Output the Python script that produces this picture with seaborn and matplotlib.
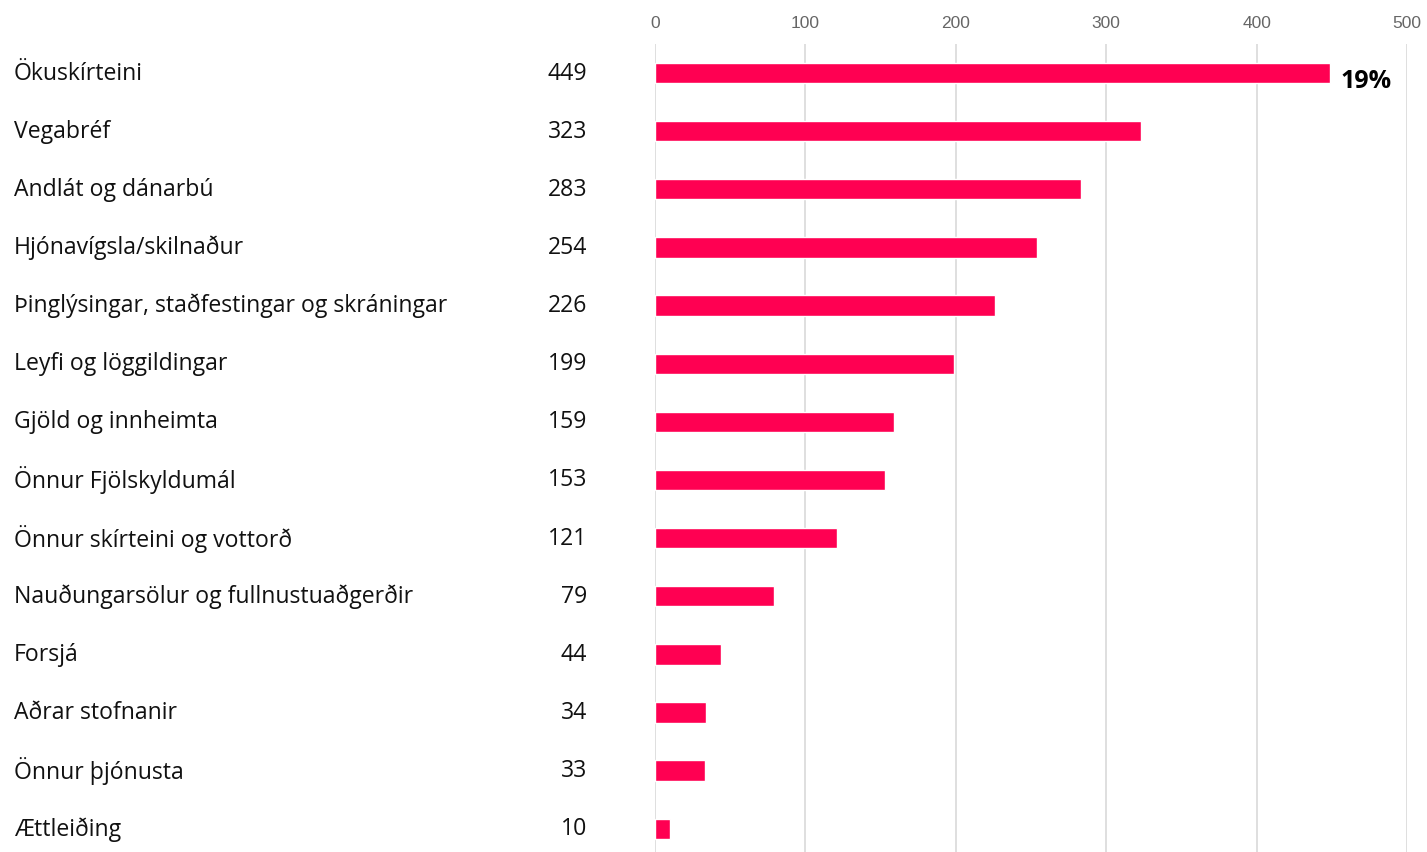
import matplotlib
matplotlib.use("Agg")
import matplotlib.pyplot as plt
import pandas as pd
import seaborn as sns

categories = [
    "Ökuskírteini",
    "Vegabréf",
    "Andlát og dánarbú",
    "Hjónavígsla/skilnaður",
    "Þinglýsingar, staðfestingar og skráningar",
    "Leyfi og löggildingar",
    "Gjöld og innheimta",
    "Önnur Fjölskyldumál",
    "Önnur skírteini og vottorð",
    "Nauðungarsölur og fullnustuaðgerðir",
    "Forsjá",
    "Aðrar stofnanir",
    "Önnur þjónusta",
    "Ættleiðing",
]
counts = [449, 323, 283, 254, 226, 199, 159, 153, 121, 79, 44, 34, 33, 10]
top_share = "19%"
x_ticks = [0, 100, 200, 300, 400, 500]

BAR_COLOR = "#ff0052"

df = pd.DataFrame({"category": categories, "count": counts})

sns.set_style("white")
plt.rcParams["font.family"] = ["Open Sans", "DejaVu Sans"]

fig = plt.figure(figsize=(14.27, 8.53), dpi=100)
ax = fig.add_axes([655 / 1427, 0, (1407 - 655) / 1427, (853 - 45) / 853])

sns.barplot(data=df, y="category", x="count", orient="h", color=BAR_COLOR,
            width=0.35, saturation=1, ax=ax, zorder=3)

ax.set_xlim(0, 500)
ax.set_ylim(13.4, -0.5)
ax.set_xticks(x_ticks)
ax.xaxis.tick_top()
ax.tick_params(axis="x", length=0, pad=10, labelsize=12.5, labelcolor="#666666")
for lbl in ax.get_xticklabels():
    lbl.set_family(["Liberation Sans", "DejaVu Sans"])
ax.grid(axis="x", color="#d9d9d9", linewidth=1.2, zorder=0)
ax.set_yticks([])
ax.set_xlabel("")
ax.set_ylabel("")
for s in ax.spines.values():
    s.set_visible(False)

# category names and counts as text columns to the left of the plot
for i, (cat, n) in enumerate(zip(categories, counts)):
    y = ax.transData.transform((0, i))[1]
    yf = (y + 0.5) / fig.bbox.height
    fig.text(14 / 1427, yf, cat, ha="left", va="center", fontsize=16.6, color="#111111")
    fig.text(587 / 1427, yf, str(n), ha="right", va="center", fontsize=16.6, color="#111111")

ax.annotate(top_share, xy=(counts[0], 0), xytext=(7, -5), textcoords="offset points",
            ha="left", va="center", fontsize=18, fontweight="bold", color="black")

fig.savefig("out.png", dpi=100)
